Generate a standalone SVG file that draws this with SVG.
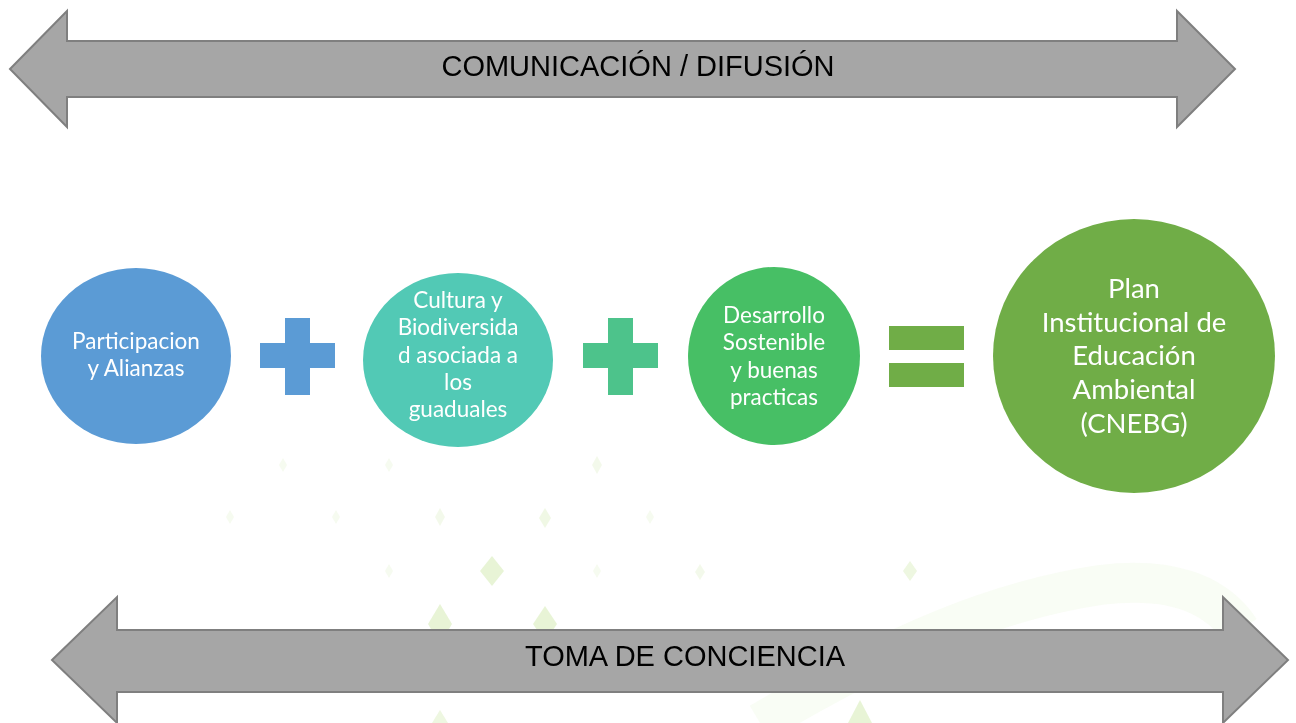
<svg xmlns="http://www.w3.org/2000/svg" width="1296" height="723" viewBox="0 0 1296 723">
<style>
.arrow{fill:#a6a6a6;stroke:#7f7f7f;stroke-width:2}
.band{font-family:"Liberation Sans",Arial,sans-serif;font-size:29px;fill:#000;text-anchor:middle}
.lbl{font-family:Lato,"Open Sans",sans-serif;fill:#fff;text-anchor:middle}
.s{font-size:22.5px}
.b{font-size:27.5px}
.dia{fill:#c5e39a}
</style>
<rect width="1296" height="723" fill="#fff"/>
<g id="background" opacity="0.5">
<path class="dia" d="M283 458l4 7-4 7-4-7z" opacity="0.3"/>
<path class="dia" d="M389 458l4 7-4 7-4-7z" opacity="0.3"/>
<path class="dia" d="M597 456l5 9-5 9-5-9z" opacity="0.4"/>
<path class="dia" d="M230 510l4 7-4 7-4-7z" opacity="0.3"/>
<path class="dia" d="M336 510l4 7-4 7-4-7z" opacity="0.3"/>
<path class="dia" d="M440 508l5 9-5 9-5-9z" opacity="0.4"/>
<path class="dia" d="M545 508l6 10-6 10-6-10z" opacity="0.5"/>
<path class="dia" d="M650 510l4 7-4 7-4-7z" opacity="0.3"/>
<path class="dia" d="M492 556l12 15-12 15-12-15z" opacity="0.8"/>
<path class="dia" d="M389 564l4 7-4 7-4-7z" opacity="0.3"/>
<path class="dia" d="M597 564l4 7-4 7-4-7z" opacity="0.3"/>
<path class="dia" d="M700 564l5 8-5 8-5-8z" opacity="0.4"/>
<path class="dia" d="M910 561l7 10-7 10-7-10z" opacity="0.6"/>
<path class="dia" d="M440 604l12 20-12 20-12-20z" opacity="0.8"/>
<path class="dia" d="M545 606l12 18-12 18-12-18z" opacity="0.8"/>
<path class="dia" d="M860 700l12 23h-24z" opacity="0.8"/>
<path class="dia" d="M440 710l8 13h-16z" opacity="0.6"/>
<path d="M760 723C900 640 1000 600 1100 585C1180 575 1220 600 1240 630" fill="none" stroke="#d8edbd" stroke-width="40" opacity="0.3"/>
</g>
<g id="top-arrow">
<path class="arrow" d="M10 69L67 11V41H1177V11L1235 69L1177 127V97H67V127Z"/>
<text class="band" x="638" y="76">COMUNICACIÓN / DIFUSIÓN</text>
</g>
<g id="bottom-arrow">
<path class="arrow" d="M52 660L117 597V630H1223V597L1288 660L1223 723V692H117V723Z"/>
<text class="band" x="685" y="666">TOMA DE CONCIENCIA</text>
</g>
<g id="participacion">
<ellipse cx="136" cy="356" rx="95" ry="88" fill="#5b9bd5"/>
<text class="lbl s" x="136" y="349">Participacion</text>
<text class="lbl s" x="136" y="376">y Alianzas</text>
</g>
<g id="plus1">
<path d="M285 318h25v25h25v25h-25v27h-25v-27h-25v-25h25z" fill="#5b9bd5"/>
</g>
<g id="cultura">
<ellipse cx="458" cy="360" rx="95" ry="87" fill="#52c9b5"/>
<text class="lbl s" x="458" y="308">Cultura y</text>
<text class="lbl s" x="458" y="335">Biodiversida</text>
<text class="lbl s" x="458" y="363">d asociada a</text>
<text class="lbl s" x="458" y="390">los</text>
<text class="lbl s" x="458" y="417">guaduales</text>
</g>
<g id="plus2">
<path d="M608 318h25v25h25v25h-25v27h-25v-27h-25v-25h25z" fill="#4dc38b"/>
</g>
<g id="desarrollo">
<ellipse cx="774" cy="356" rx="86" ry="89" fill="#47bf65"/>
<text class="lbl s" x="774" y="323">Desarrollo</text>
<text class="lbl s" x="774" y="350">Sostenible</text>
<text class="lbl s" x="774" y="378">y buenas</text>
<text class="lbl s" x="774" y="405">practicas</text>
</g>
<g id="equals">
<rect x="889" y="326" width="75" height="24" fill="#70ad47"/>
<rect x="889" y="363" width="75" height="24" fill="#70ad47"/>
</g>
<g id="plan">
<ellipse cx="1134" cy="356" rx="141" ry="137" fill="#70ad47"/>
<text class="lbl b" x="1134" y="298">Plan</text>
<text class="lbl b" x="1134" y="332">Institucional de</text>
<text class="lbl b" x="1134" y="365">Educación</text>
<text class="lbl b" x="1134" y="399">Ambiental</text>
<text class="lbl b" x="1134" y="433">(CNEBG)</text>
</g>
<g id="connectors"/>
</svg>
